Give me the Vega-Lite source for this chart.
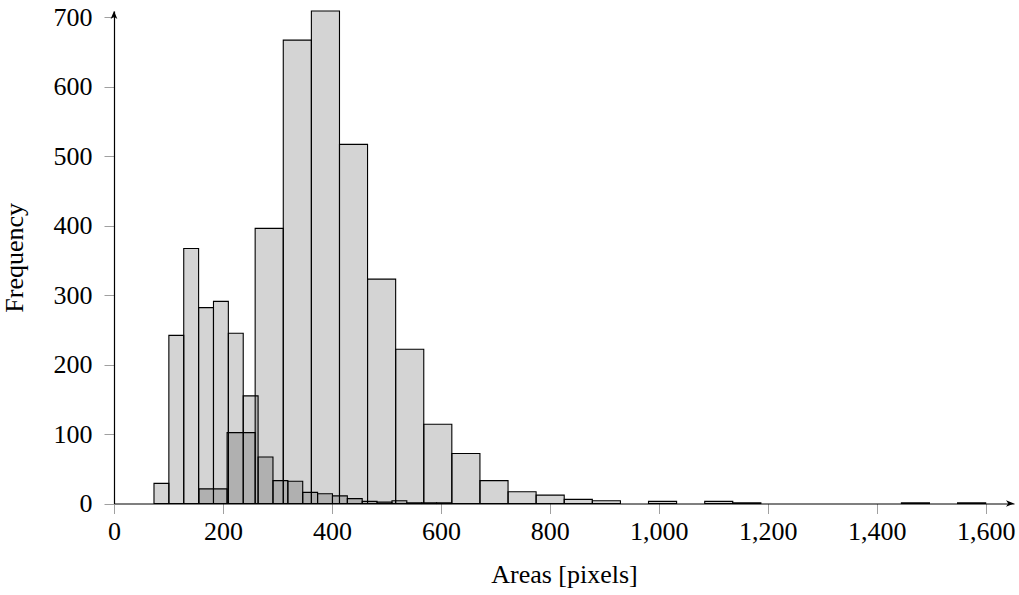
{
  "$schema": "https://vega.github.io/schema/vega-lite/v6.json",
  "width": 900,
  "height": 492.5,
  "autosize": {"type": "none"},
  "padding": {"left": 114, "top": 11, "right": 5, "bottom": 92},
  "background": "white",
  "config": {
    "view": {"stroke": null},
    "font": "Liberation Serif",
    "axis": {
      "domainColor": "black",
      "domainWidth": 1.2,
      "domainCap": "butt",
      "tickColor": "#a0a0a0",
      "tickWidth": 1,
      "tickSize": 10,
      "labelFontSize": 26,
      "labelColor": "black",
      "labelFont": "Liberation Serif",
      "titleFont": "Liberation Serif",
      "titleFontSize": 26,
      "titleFontWeight": "normal",
      "titleColor": "black",
      "grid": false
    }
  },
  "datasets": {
    "narrow": [
      {"bin_start": 73.4, "bin_end": 100.7, "count": 29},
      {"bin_start": 100.7, "bin_end": 128.0, "count": 242},
      {"bin_start": 128.0, "bin_end": 155.3, "count": 367},
      {"bin_start": 155.3, "bin_end": 182.6, "count": 282},
      {"bin_start": 182.6, "bin_end": 209.9, "count": 291},
      {"bin_start": 209.9, "bin_end": 237.2, "count": 245},
      {"bin_start": 237.2, "bin_end": 264.5, "count": 155},
      {"bin_start": 264.5, "bin_end": 291.8, "count": 67},
      {"bin_start": 291.8, "bin_end": 319.1, "count": 33},
      {"bin_start": 319.1, "bin_end": 346.4, "count": 32},
      {"bin_start": 346.4, "bin_end": 373.7, "count": 16},
      {"bin_start": 373.7, "bin_end": 401.0, "count": 14},
      {"bin_start": 401.0, "bin_end": 428.3, "count": 11},
      {"bin_start": 428.3, "bin_end": 455.6, "count": 7},
      {"bin_start": 455.6, "bin_end": 482.9, "count": 3},
      {"bin_start": 482.9, "bin_end": 510.2, "count": 2},
      {"bin_start": 510.2, "bin_end": 537.5, "count": 4},
      {"bin_start": 537.5, "bin_end": 564.8, "count": 1},
      {"bin_start": 564.8, "bin_end": 592.1, "count": 1},
      {"bin_start": 592.1, "bin_end": 619.4, "count": 1}
    ],
    "wide": [
      {"bin_start": 156.0, "bin_end": 207.6, "count": 21},
      {"bin_start": 207.6, "bin_end": 259.1, "count": 102},
      {"bin_start": 259.1, "bin_end": 310.7, "count": 396},
      {"bin_start": 310.7, "bin_end": 362.3, "count": 667},
      {"bin_start": 362.3, "bin_end": 413.9, "count": 709},
      {"bin_start": 413.9, "bin_end": 465.4, "count": 517},
      {"bin_start": 465.4, "bin_end": 517.0, "count": 323},
      {"bin_start": 517.0, "bin_end": 568.6, "count": 222},
      {"bin_start": 568.6, "bin_end": 620.1, "count": 114},
      {"bin_start": 620.1, "bin_end": 671.7, "count": 72},
      {"bin_start": 671.7, "bin_end": 723.3, "count": 33},
      {"bin_start": 723.3, "bin_end": 774.8, "count": 17},
      {"bin_start": 774.8, "bin_end": 826.4, "count": 12},
      {"bin_start": 826.4, "bin_end": 878.0, "count": 6},
      {"bin_start": 878.0, "bin_end": 929.6, "count": 4},
      {"bin_start": 981.1, "bin_end": 1032.7, "count": 3},
      {"bin_start": 1084.3, "bin_end": 1135.8, "count": 3},
      {"bin_start": 1135.8, "bin_end": 1187.4, "count": 1},
      {"bin_start": 1445.3, "bin_end": 1496.8, "count": 1},
      {"bin_start": 1548.4, "bin_end": 1600.0, "count": 1}
    ],
    "anchor": [{}]
  },
  "layer": [
    {
      "data": {"name": "wide"},
      "mark": {"type": "rect", "fill": "#000000", "fillOpacity": 0.17, "stroke": "black", "strokeWidth": 1.1},
      "encoding": {
        "x": {
          "field": "bin_start", "type": "quantitative",
          "scale": {"domain": [0, 1652], "nice": false, "zero": false},
          "axis": {"values": [0, 200, 400, 600, 800, 1000, 1200, 1400, 1600], "format": ",d", "title": "Areas [pixels]", "labelPadding": 5, "titlePadding": 17, "labelFlush": false}
        },
        "x2": {"field": "bin_end"},
        "y": {
          "field": "count", "type": "quantitative",
          "scale": {"domain": [0, 709], "nice": false},
          "axis": {"values": [0, 100, 200, 300, 400, 500, 600, 700], "title": "Frequency", "labelPadding": 12, "titlePadding": 26, "labelFlush": false}
        },
        "y2": {"datum": 0}
      }
    },
    {
      "data": {"name": "narrow"},
      "mark": {"type": "rect", "fill": "#000000", "fillOpacity": 0.17, "stroke": "black", "strokeWidth": 1.1},
      "encoding": {
        "x": {"field": "bin_start", "type": "quantitative"},
        "x2": {"field": "bin_end"},
        "y": {"field": "count", "type": "quantitative"},
        "y2": {"datum": 0}
      }
    },
    {
      "data": {"name": "anchor"},
      "mark": {"type": "point", "shape": "M0,0L-1,-0.42L-0.72,0L-1,0.42Z", "filled": true, "size": 256, "color": "black", "opacity": 1, "clip": false},
      "encoding": {
        "x": {"datum": 1652, "type": "quantitative"},
        "y": {"datum": 0, "type": "quantitative"}
      }
    },
    {
      "data": {"name": "anchor"},
      "mark": {"type": "point", "shape": "M0,0L-0.42,1L0,0.72L0.42,1Z", "filled": true, "size": 256, "color": "black", "opacity": 1, "clip": false},
      "encoding": {
        "x": {"datum": 0, "type": "quantitative"},
        "y": {"datum": 709, "type": "quantitative"}
      }
    }
  ]
}
